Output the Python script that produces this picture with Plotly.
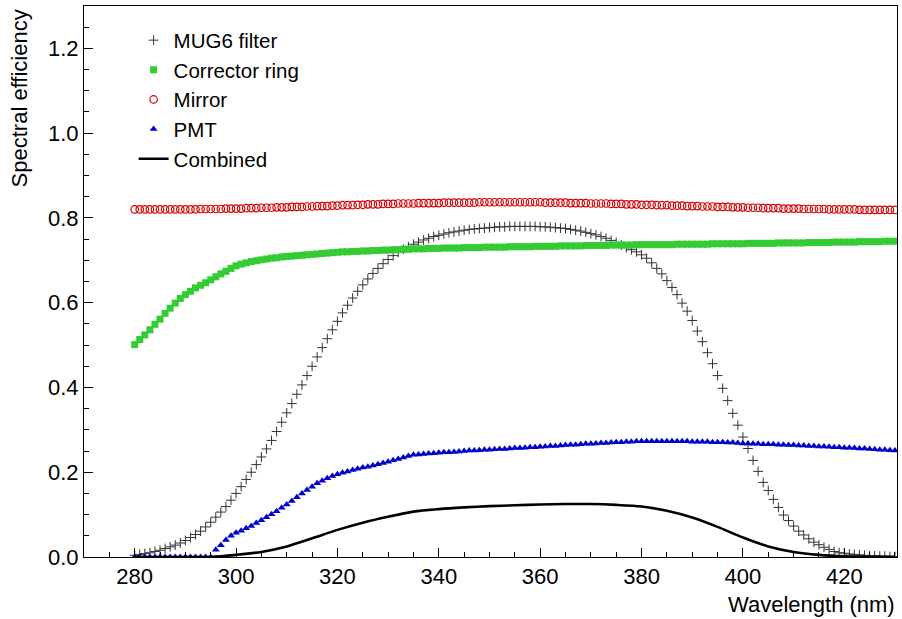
import plotly.graph_objects as go

# Wavelength grid (nm)
wavelength = list(range(280, 431))

mug6_filter = [
    0.004, 0.006, 0.008, 0.010, 0.013, 0.016, 0.020, 0.024, 0.028, 0.033,
    0.039, 0.046, 0.053, 0.061, 0.071, 0.082, 0.094, 0.106, 0.119, 0.134,
    0.150, 0.166, 0.183, 0.200, 0.218, 0.236, 0.255, 0.275, 0.296, 0.318,
    0.340, 0.362, 0.384, 0.406, 0.428, 0.450, 0.472, 0.494, 0.515, 0.536,
    0.556, 0.576, 0.594, 0.611, 0.627, 0.642, 0.656, 0.669, 0.681, 0.692,
    0.702, 0.711, 0.719, 0.726, 0.732, 0.738, 0.743, 0.748, 0.752, 0.756,
    0.759, 0.762, 0.765, 0.767, 0.769, 0.771, 0.773, 0.774, 0.775, 0.776,
    0.777, 0.778, 0.779, 0.779, 0.780, 0.780, 0.780, 0.780, 0.780, 0.780,
    0.779, 0.779, 0.778, 0.777, 0.776, 0.775, 0.773, 0.771, 0.769, 0.766,
    0.763, 0.760, 0.756, 0.752, 0.747, 0.742, 0.736, 0.730, 0.725, 0.720,
    0.713, 0.705, 0.694, 0.681, 0.668, 0.652, 0.636, 0.619, 0.599, 0.580,
    0.558, 0.533, 0.508, 0.482, 0.456, 0.428, 0.398, 0.369, 0.339, 0.311,
    0.283, 0.256, 0.228, 0.202, 0.176, 0.157, 0.136, 0.117, 0.099, 0.086,
    0.073, 0.061, 0.052, 0.043, 0.035, 0.029, 0.023, 0.018, 0.013, 0.010,
    0.009, 0.007, 0.006, 0.005, 0.004, 0.003, 0.003, 0.002, 0.002, 0.001,
    0.001,
]

corrector_ring = [
    0.501, 0.513, 0.524, 0.536, 0.549, 0.561, 0.575, 0.587, 0.599, 0.610,
    0.619, 0.627, 0.635, 0.641, 0.647, 0.654, 0.661, 0.668, 0.674, 0.681,
    0.687, 0.691, 0.694, 0.697, 0.699, 0.701, 0.703, 0.705, 0.706, 0.708,
    0.709, 0.710, 0.711, 0.712, 0.713, 0.714, 0.715, 0.716, 0.717, 0.718,
    0.719, 0.720, 0.720, 0.721, 0.721, 0.722, 0.722, 0.723, 0.723, 0.724,
    0.724, 0.725, 0.725, 0.726, 0.726, 0.727, 0.727, 0.727, 0.728, 0.728,
    0.728, 0.729, 0.729, 0.729, 0.729, 0.730, 0.730, 0.730, 0.730, 0.731,
    0.731, 0.731, 0.731, 0.731, 0.732, 0.732, 0.732, 0.732, 0.732, 0.733,
    0.733, 0.733, 0.733, 0.733, 0.734, 0.734, 0.734, 0.734, 0.734, 0.735,
    0.735, 0.735, 0.735, 0.735, 0.736, 0.736, 0.736, 0.736, 0.736, 0.737,
    0.737, 0.737, 0.737, 0.737, 0.737, 0.737, 0.737, 0.738, 0.738, 0.738,
    0.738, 0.738, 0.738, 0.738, 0.739, 0.739, 0.739, 0.739, 0.739, 0.739,
    0.739, 0.740, 0.740, 0.740, 0.740, 0.740, 0.740, 0.741, 0.741, 0.741,
    0.741, 0.741, 0.741, 0.742, 0.742, 0.742, 0.742, 0.742, 0.743, 0.743,
    0.743, 0.743, 0.743, 0.744, 0.744, 0.744, 0.744, 0.744, 0.745, 0.745,
    0.745,
]

mirror = [
    0.820, 0.820, 0.820, 0.820, 0.820, 0.820, 0.820, 0.820, 0.820, 0.820,
    0.820, 0.820, 0.820, 0.821, 0.821, 0.821, 0.821, 0.821, 0.822, 0.822,
    0.822, 0.822, 0.823, 0.823, 0.823, 0.824, 0.824, 0.824, 0.825, 0.825,
    0.825, 0.826, 0.826, 0.826, 0.827, 0.827, 0.828, 0.828, 0.828, 0.829,
    0.829, 0.830, 0.830, 0.830, 0.831, 0.831, 0.832, 0.832, 0.832, 0.833,
    0.833, 0.833, 0.834, 0.834, 0.834, 0.834, 0.835, 0.835, 0.835, 0.835,
    0.835, 0.836, 0.836, 0.836, 0.836, 0.836, 0.836, 0.836, 0.837, 0.837,
    0.837, 0.837, 0.837, 0.837, 0.837, 0.837, 0.837, 0.837, 0.837, 0.837,
    0.837, 0.836, 0.836, 0.836, 0.836, 0.836, 0.835, 0.835, 0.835, 0.835,
    0.834, 0.834, 0.834, 0.834, 0.833, 0.833, 0.833, 0.832, 0.832, 0.832,
    0.831, 0.831, 0.831, 0.830, 0.830, 0.830, 0.829, 0.829, 0.829, 0.828,
    0.828, 0.828, 0.827, 0.827, 0.827, 0.826, 0.826, 0.826, 0.825, 0.825,
    0.825, 0.824, 0.824, 0.824, 0.823, 0.823, 0.823, 0.823, 0.822, 0.822,
    0.822, 0.822, 0.821, 0.821, 0.821, 0.821, 0.821, 0.820, 0.820, 0.820,
    0.820, 0.820, 0.820, 0.819, 0.819, 0.819, 0.819, 0.819, 0.819, 0.819,
    0.819,
]

pmt = [
    0.000, 0.000, 0.000, 0.000, 0.000, 0.000, 0.000, 0.000, 0.000, 0.000,
    0.000, 0.000, 0.000, 0.000, 0.000, 0.000, 0.017, 0.028, 0.040, 0.050,
    0.057, 0.062, 0.068, 0.073, 0.080, 0.087, 0.094, 0.101, 0.108, 0.116,
    0.124, 0.132, 0.141, 0.150, 0.158, 0.166, 0.174, 0.180, 0.186, 0.191,
    0.195, 0.199, 0.202, 0.205, 0.208, 0.211, 0.213, 0.216, 0.219, 0.222,
    0.225, 0.228, 0.231, 0.235, 0.238, 0.241, 0.242, 0.243, 0.244, 0.245,
    0.246, 0.247, 0.247, 0.248, 0.249, 0.250, 0.251, 0.251, 0.252, 0.253,
    0.253, 0.254, 0.255, 0.255, 0.256, 0.257, 0.257, 0.258, 0.259, 0.259,
    0.260, 0.261, 0.262, 0.262, 0.263, 0.264, 0.265, 0.265, 0.266, 0.267,
    0.267, 0.268, 0.269, 0.269, 0.270, 0.271, 0.271, 0.272, 0.272, 0.273,
    0.273, 0.273, 0.273, 0.273, 0.273, 0.273, 0.273, 0.273, 0.273, 0.273,
    0.272, 0.272, 0.272, 0.272, 0.271, 0.271, 0.271, 0.270, 0.270, 0.269,
    0.268, 0.268, 0.267, 0.267, 0.266, 0.266, 0.266, 0.265, 0.265, 0.264,
    0.264, 0.263, 0.263, 0.262, 0.262, 0.261, 0.261, 0.260, 0.259, 0.259,
    0.258, 0.258, 0.257, 0.256, 0.256, 0.255, 0.254, 0.253, 0.253, 0.252,
    0.251,
]

combined_wavelength = [280, 285, 290, 295, 300, 305, 310, 315, 320, 325,
                       330, 335, 340, 345, 350, 355, 360, 365, 370, 375,
                       380, 385, 390, 395, 400, 405, 410, 415, 420, 425, 430]
combined = [0.000, 0.000, 0.000, 0.000, 0.005, 0.012, 0.025, 0.044, 0.064, 0.081,
            0.095, 0.107, 0.113, 0.117, 0.120, 0.122, 0.124, 0.125, 0.125, 0.123,
            0.119, 0.109, 0.093, 0.071, 0.046, 0.025, 0.012, 0.005, 0.0015, 0.0005, 0.0002]

x_ticks = [280, 300, 320, 340, 360, 380, 400, 420]
y_ticks = [0.0, 0.2, 0.4, 0.6, 0.8, 1.0, 1.2]

FONT = "Liberation Sans, Arial, Helvetica, sans-serif"
FS = 22

fig = go.Figure()
fig.add_trace(go.Scatter(
    x=wavelength, y=mug6_filter, mode="markers", name="MUG6 filter",
    legendgroup="a",
    marker=dict(symbol="cross-thin", size=7, color="#333333",
                line=dict(color="#333333", width=1)),
))
fig.add_trace(go.Scatter(
    x=wavelength, y=corrector_ring, mode="markers", name="Corrector ring",
    legendgroup="b",
    marker=dict(symbol="square", size=7, color="#33cc33", line=dict(width=0)),
))
fig.add_trace(go.Scatter(
    x=wavelength, y=mirror, mode="markers", name="Mirror",
    legendgroup="c",
    marker=dict(symbol="circle-open", size=7.5, color="#d40000",
                line=dict(color="#d40000", width=1.2)),
))
fig.add_trace(go.Scatter(
    x=wavelength, y=pmt, mode="markers", name="PMT",
    legendgroup="d",
    marker=dict(symbol="triangle-up", size=7, color="#0000cc", line=dict(width=0)),
))
fig.add_trace(go.Scatter(
    x=combined_wavelength, y=combined, mode="lines", name="Combined",
    legendgroup="e",
    line=dict(color="black", width=2.6, shape="spline", smoothing=0.8),
))

axis_common = dict(
    showline=True, linecolor="black", linewidth=1, mirror=True,
    ticks="inside", ticklen=9, tickwidth=1, tickcolor="black",
    showgrid=False, zeroline=False,
    tickfont=dict(family=FONT, size=FS, color="black"),
)

fig.update_xaxes(
    range=[270, 430.4], tickvals=x_ticks,
    minor=dict(ticks="inside", ticklen=5, dtick=5, tick0=270, tickcolor="black", showgrid=False),
    **axis_common,
)
fig.update_yaxes(
    range=[0, 1.3], tickvals=y_ticks, tickformat=".1f",
    minor=dict(ticks="inside", ticklen=5, dtick=0.05, tick0=0, tickcolor="black", showgrid=False),
    **axis_common,
)

fig.update_layout(
    width=902, height=619,
    margin=dict(l=84, r=5, t=6, b=62),
    paper_bgcolor="white", plot_bgcolor="white",
    font=dict(family=FONT, size=FS, color="black"),
    showlegend=True,
    legend=dict(
        x=0.061, y=0.974, xanchor="left", yanchor="top",
        bgcolor="rgba(0,0,0,0)", borderwidth=0,
        font=dict(family=FONT, size=20.5, color="black"),
        tracegroupgap=0, itemsizing="trace",
    ),
    annotations=[
        dict(text="Wavelength (nm)", xref="paper", yref="paper",
             x=1.0, y=-0.087, xanchor="right", yanchor="middle",
             showarrow=False, font=dict(family=FONT, size=FS, color="black")),
        dict(text="Spectral efficiency", xref="paper", yref="paper",
             x=-0.079, y=0.997, xanchor="center", yanchor="top", textangle=-90,
             showarrow=False, font=dict(family=FONT, size=FS, color="black")),
    ],
)

fig.write_html("out.html", config={"displayModeBar": False},
               post_script="document.body.style.margin='0';document.body.style.padding='0';")
